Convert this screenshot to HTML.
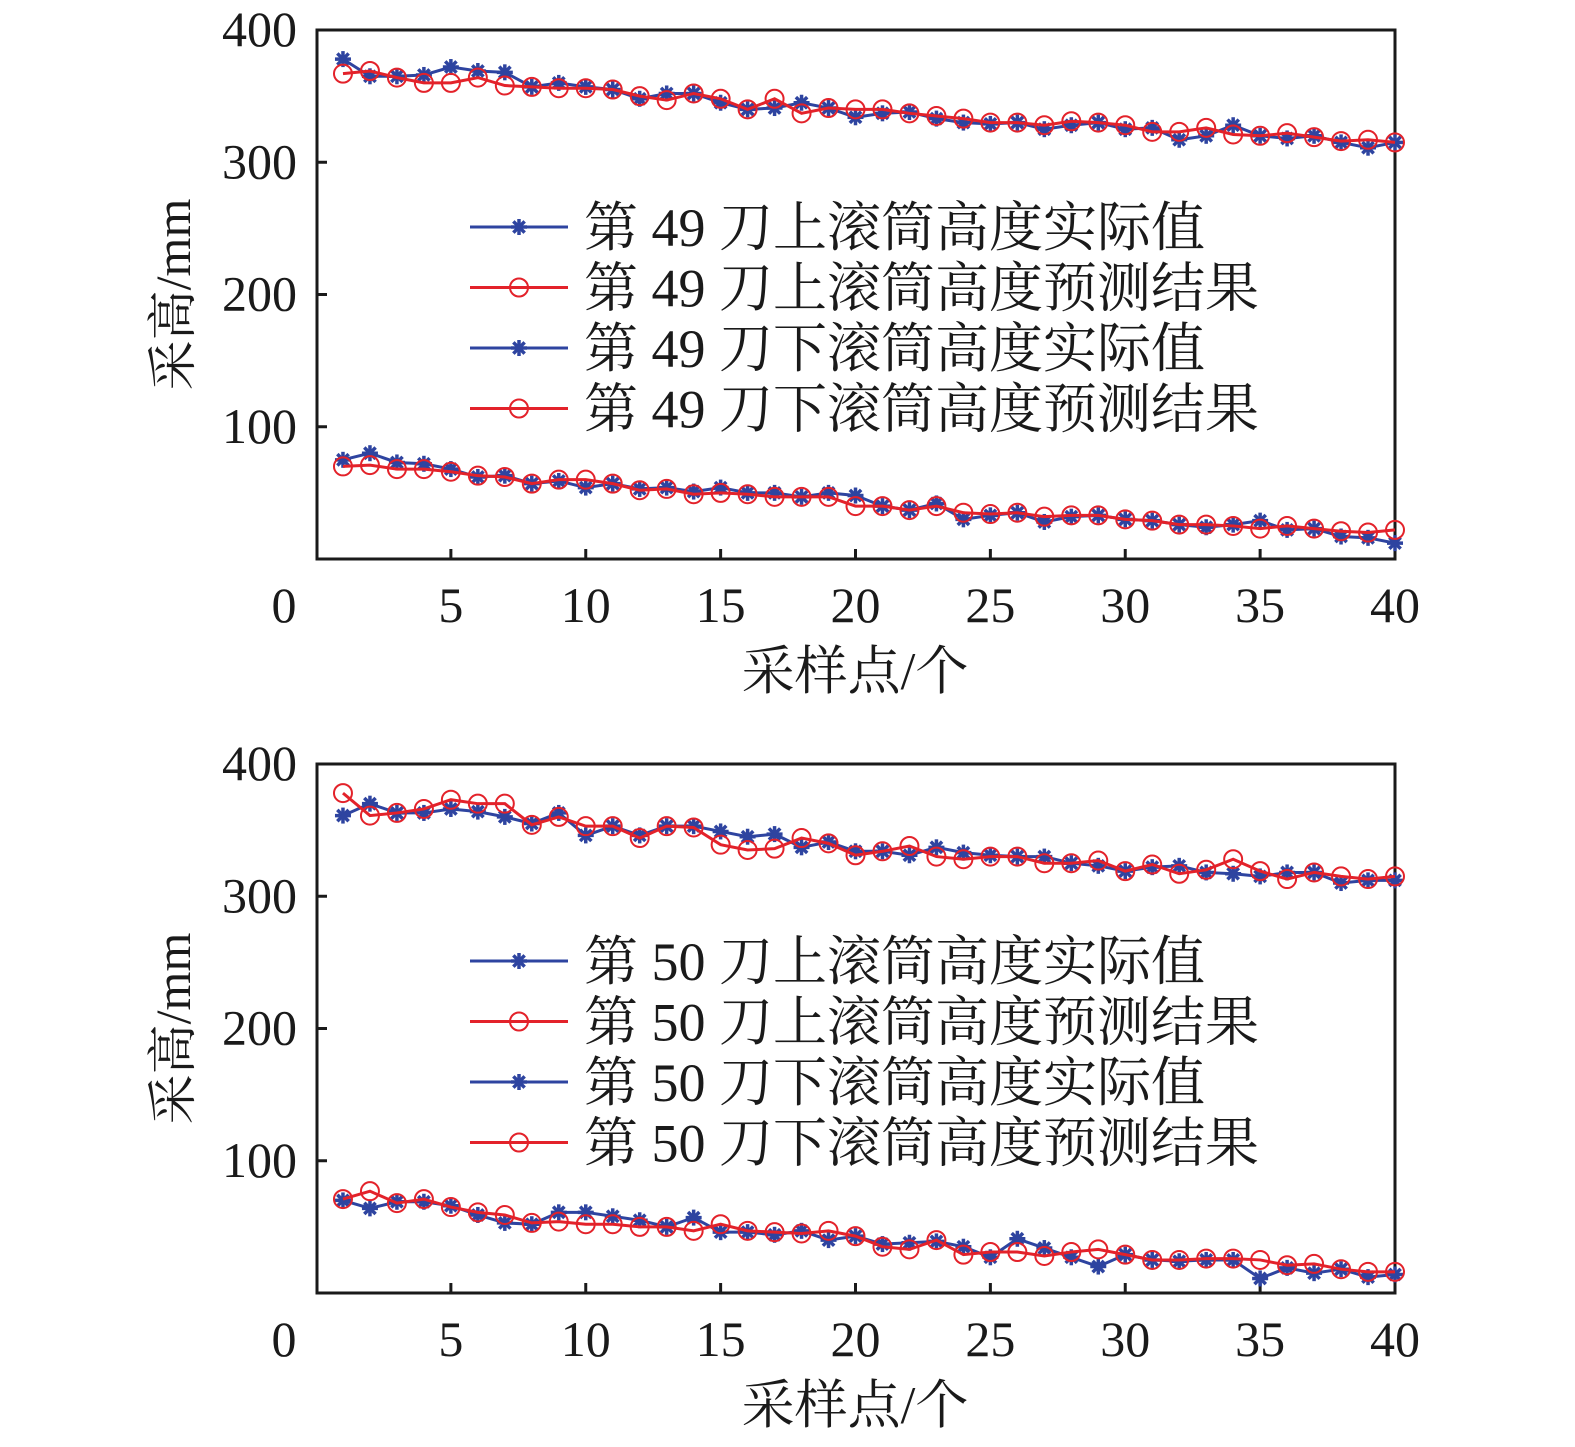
<!DOCTYPE html>
<html><head><meta charset="utf-8"><style>
body{margin:0;background:#fff}
svg{display:block}
text{font-family:"Liberation Serif","Noto Serif CJK SC",serif;fill:#1a1a1a}
</style></head><body>
<svg id="chart" width="1575" height="1447" viewBox="0 0 1575 1447" xmlns="http://www.w3.org/2000/svg"></svg>
<script>
const xCats = Array.from({length:40},(_,i)=>i+1);
const xTicks = [5,10,15,20,25,30,35,40];
const yTicks = [100,200,300,400];
const c49UpActual = [378,365,365,366,372,369,368,357,360,357,355,348,352,352,345,340,341,345,341,334,337,338,333,330,329,330,325,328,330,325,326,317,320,328,320,318,320,315,311,315];
const c49UpPred = [367,369,364,360,360,364,358,357,356,356,355,350,347,352,348,340,348,337,341,340,340,337,335,333,330,330,328,331,330,328,323,323,326,321,320,322,319,316,317,315];
const c49LowActual = [75,80,73,72,68,62,63,57,59,54,57,53,54,51,54,50,50,47,50,48,40,37,42,30,33,35,28,32,33,30,29,26,24,26,29,22,23,17,16,12];
const c49LowPred = [70,71,68,68,66,63,62,57,60,60,57,52,53,49,50,49,47,47,47,40,40,37,40,35,34,35,32,33,33,30,29,26,26,25,23,25,23,21,20,22];
const c50UpActual = [361,370,363,363,366,364,360,355,363,346,353,346,353,353,349,345,347,337,341,334,334,331,337,333,331,330,330,325,323,319,322,323,318,317,315,318,318,310,312,312];
const c50UpPred = [378,361,363,366,373,370,370,354,360,353,353,344,353,352,339,335,336,344,340,331,334,338,330,328,330,330,325,325,327,319,324,317,320,328,319,313,318,315,313,315];
const c50LowActual = [70,64,69,69,66,59,53,52,61,61,58,55,50,57,46,46,44,47,40,43,37,38,39,35,27,41,34,27,20,29,25,24,25,25,11,19,15,18,12,14];
const c50LowPred = [71,77,68,71,65,61,59,53,54,52,52,50,50,47,52,47,46,45,47,43,35,33,40,29,31,31,28,31,33,29,25,25,26,26,25,21,22,18,16,16];
const legend49 = ["第 49 刀上滚筒高度实际值","第 49 刀上滚筒高度预测结果","第 49 刀下滚筒高度实际值","第 49 刀下滚筒高度预测结果"];
const legend50 = ["第 50 刀上滚筒高度实际值","第 50 刀上滚筒高度预测结果","第 50 刀下滚筒高度实际值","第 50 刀下滚筒高度预测结果"];

const NS="http://www.w3.org/2000/svg";
const svg=document.getElementById('chart');
const BLUE="#2e44a0", RED="#e3222a";
function mk(tag,attrs,parent){const e=document.createElementNS(NS,tag);for(const k in attrs)e.setAttribute(k,attrs[k]);(parent||svg).appendChild(e);return e;}
function star(g,x,y,r,col){
  for(let a=0;a<4;a++){const t=a*Math.PI/4;
    mk('line',{x1:x-r*Math.cos(t),y1:y-r*Math.sin(t),x2:x+r*Math.cos(t),y2:y+r*Math.sin(t),stroke:col,'stroke-width':3.5},g);}
}
function drawChart(top,name,series,legend){
  const X0=317,X1=1395,Y0=top,Y1=top+529;
  const xs=v=>316+(v)*(1395-316)/40;
  const ys=v=>Y1-v*(Y1-Y0)/400;
  const g=mk('g',{});
  
  
  const frame=mk('rect',{x:X0,y:Y0,width:X1-X0,height:Y1-Y0,fill:'none',stroke:'#1a1a1a','stroke-width':3},g);
  
  yTicks.forEach(v=>{
    mk('line',{x1:X0,y1:ys(v),x2:X0+10,y2:ys(v),stroke:'#1a1a1a','stroke-width':3},g);
    const t=mk('text',{x:297,y:ys(v)+16,'text-anchor':'end','font-size':50},g);t.textContent=v;
    
  });
  xTicks.forEach(v=>{
    mk('line',{x1:xs(v),y1:Y1,x2:xs(v),y2:Y1-10,stroke:'#1a1a1a','stroke-width':3},g);
    const t=mk('text',{x:xs(v),y:Y1+63,'text-anchor':'middle','font-size':50},g);t.textContent=v;
    
  });
  const z=mk('text',{x:284,y:Y1+63,'text-anchor':'middle','font-size':50},g);z.textContent='0';
  
  const yt=mk('text',{x:0,y:0,'text-anchor':'middle','font-size':50,transform:`translate(190,${(Y0+Y1)/2}) rotate(-90)`},g);yt.textContent='采高/mm';
  
  const xt=mk('text',{x:855,y:Y1+130,'text-anchor':'middle','font-size':53},g);xt.textContent='采样点/个';
  
  series.forEach((s,i)=>{
    const col=s.type==='a'?BLUE:RED;
    const sg=mk('g',{},g);
    
    const pts=s.data.map((v,j)=>xs(xCats[j])+','+ys(v)).join(' ');
    mk('polyline',{points:pts,fill:'none',stroke:col,'stroke-width':3},sg);
    s.data.forEach((v,j)=>{
      if(s.type==='a')star(sg,xs(xCats[j]),ys(v),8,col);
      else mk('circle',{cx:xs(xCats[j]),cy:ys(v),r:9,fill:'none',stroke:col,'stroke-width':2},sg);
    });
  });
  legend.forEach((txt,i)=>{
    const ly=Y0+197+i*60.5;
    const lg=mk('g',{},g);
    
    const col=i%2===0?BLUE:RED;
    mk('line',{x1:470,y1:ly,x2:568,y2:ly,stroke:col,'stroke-width':3},lg);
    if(i%2===0)star(lg,519,ly,8,col);else mk('circle',{cx:519,cy:ly,r:9,fill:'none',stroke:col,'stroke-width':2},lg);
    const t=mk('text',{x:584,y:ly+19,'font-size':54},lg);t.textContent=txt;
  });
}
drawChart(30,'chart-cut-49',[
  {name:'series-49-upper-actual',type:'a',data:c49UpActual},
  {name:'series-49-upper-pred',type:'p',data:c49UpPred},
  {name:'series-49-lower-actual',type:'a',data:c49LowActual},
  {name:'series-49-lower-pred',type:'p',data:c49LowPred}],legend49);
drawChart(764,'chart-cut-50',[
  {name:'series-50-upper-actual',type:'a',data:c50UpActual},
  {name:'series-50-upper-pred',type:'p',data:c50UpPred},
  {name:'series-50-lower-actual',type:'a',data:c50LowActual},
  {name:'series-50-lower-pred',type:'p',data:c50LowPred}],legend50);
</script>
</body></html>
